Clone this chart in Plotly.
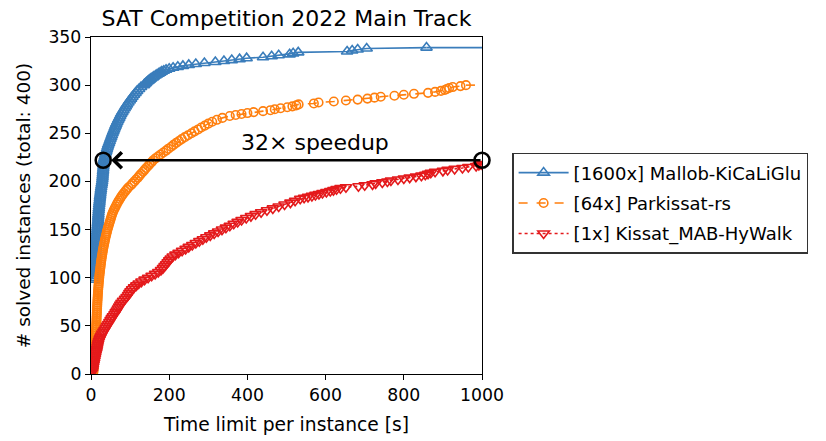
import plotly.graph_objects as go

TIME_LIMIT = 1000

# Mallob-KiCaLiGlu (1600x): time [s] at which the n-th instance is solved
mallob_t = [9, 9.2, 9.4, 9.6, 9.8, 10, 10.2, 10.4, 10.6, 10.8, 11, 11.2, 11.4, 11.6, 11.8,
            12, 12.2, 12.4, 12.8, 13.2, 13.6, 14, 14.4, 14.8, 15.2, 15.6, 16, 16.4, 16.8,
            17.2, 17.6, 18, 18.3, 18.6, 18.9, 19.2, 19.6, 20, 20.5, 21, 21.5, 22, 22.5, 23,
            23.6, 24.2, 24.8, 25.4, 26, 26.8, 27.6, 28.4, 29, 29.4, 29.8, 30.2, 30.6, 31,
            31.4, 31.8, 32.2, 32.6, 33, 34.2, 35.4, 36.6, 38, 39.5, 41, 42.5, 44, 46, 47.8,
            49.6, 51.4, 53.2, 55, 57, 59, 61, 63, 65, 67.4, 69.8, 72.2, 74.6, 77, 80, 83, 86,
            89, 92, 95.5, 99, 102.5, 106, 110, 114, 118, 123, 128,
            135, 137, 140, 142, 145, 148, 151, 154, 158, 161,
            165, 169, 173, 177, 181, 186, 192, 200, 210, 222,
            235, 250, 268, 290, 318, 340, 360, 380, 398, 440,
            462, 480, 508, 517, 530, 655, 668, 682, 705, 858]
mallob_n = [98, 100, 102, 104, 106, 108, 110, 112, 114, 116, 118, 120, 122, 124, 126,
            128, 130, 132, 134, 136, 138, 140, 142, 144, 146, 148, 150, 152, 154,
            156, 158, 160, 162, 164, 166, 168, 170, 172, 174, 176, 178, 180, 182, 184,
            186, 188, 190, 192, 194, 196, 198, 200, 202, 204, 206, 208, 210, 212,
            214, 216, 218, 220, 222, 224, 226, 228, 230, 232, 234, 236, 238, 240, 242,
            244, 246, 248, 250, 252, 254, 256, 258, 260, 262, 264, 266, 268, 270, 272, 274, 276,
            278, 280, 282, 284, 286, 288, 290, 292, 294, 296, 298,
            300, 301, 302, 303, 304, 305, 306, 307, 308, 309,
            310, 311, 312, 313, 314, 315, 316, 317, 318, 319,
            320, 321, 322, 323, 324, 325, 326, 327, 328, 329,
            330, 331, 332, 333, 334, 335, 336, 337, 338, 339]

# Parkissat-rs (64x)
park_t = [6, 6.5, 7, 7.3, 7.6, 8, 8.3, 8.6, 9, 9.3, 9.6, 9.9, 10.2, 10.5, 10.8, 11.1, 11.4,
          11.7, 12, 12.3, 12.5, 12.7, 13, 13.2, 13.4, 13.6, 13.9, 14.1, 14.3, 14.5, 14.8, 15,
          15.2, 15.5, 15.7, 16, 16.2, 16.5, 16.8, 17.1, 17.4, 17.7, 18, 18.4, 18.8, 19.2,
          19.6, 20, 20.5, 21, 21.5, 22, 22.6, 23.2, 23.8, 24.4, 25, 25.6, 26.3, 27, 27.8,
          28.6, 29.4, 30.2, 31, 32, 33, 34, 35, 36, 37.2, 38.4, 39.6, 40.8, 42, 43.5, 45,
          46.5, 48, 49.5, 51, 52.5, 54, 56,
          58, 60.5, 63, 65.5, 68, 71, 74, 77, 80.5, 84,
          88, 92, 96, 102, 106, 111, 115, 120, 124, 128,
          133, 137, 141, 146, 150, 155, 159, 165, 172, 178,
          185, 192, 198, 205, 211, 218, 225, 232, 240, 248,
          257, 265, 274, 282, 291, 300, 310, 322, 336,
          355, 370, 385, 400, 416, 440, 459, 470, 485, 502, 515, 525, 531, 570, 582, 621,
          652, 682, 707, 725, 741, 776, 800, 826, 862, 880, 895, 905, 910, 916, 925, 945, 959]
park_n = [2, 4, 6, 8, 10, 12, 14, 16, 18, 20, 22, 24, 26, 28, 30, 32, 34,
          36, 38, 40, 42, 44, 46, 48, 50, 52, 54, 56, 58, 60, 62, 64,
          66, 68, 70, 72, 74, 76, 78, 80, 82, 84, 86, 88, 90, 92,
          94, 96, 98, 100, 102, 104, 106, 108, 110, 112, 114, 116, 118, 120, 122,
          124, 126, 128, 130, 132, 134, 136, 138, 140, 142, 144, 146, 148, 150, 152, 154,
          156, 158, 160, 162, 164, 166, 168,
          170, 172, 174, 176, 178, 180, 182, 184, 186, 188,
          190, 192, 194, 196, 198, 200, 202, 204, 206, 208,
          210, 212, 214, 216, 218, 220, 222, 224, 226, 228,
          230, 232, 234, 236, 238, 240, 242, 244, 246, 248,
          250, 252, 254, 256, 258, 260, 262, 264, 266,
          268, 269, 270, 271, 272, 273, 274, 275, 276, 277, 278, 279, 280, 281, 282, 283,
          284, 285, 286, 287, 288, 289, 290, 291, 292, 293, 294, 295, 296, 297, 298, 299, 300]

# Kissat_MAB-HyWalk (1x)
kissat_t = [3, 4, 5, 6, 7, 8, 9, 10, 11, 12, 13.5, 14.5, 15.5, 16.5, 17.5, 18.5, 20, 22, 24,
            26.5, 29, 32, 35, 38, 41, 44, 47, 50, 53, 56, 60, 63, 66, 69, 72, 75, 78, 82, 87,
            91, 95, 98, 101, 105, 110, 116, 122, 129, 137, 146, 155, 164, 172, 179, 184, 188,
            192, 196, 200, 204, 209, 216, 224, 233, 242, 250, 259, 268, 277, 286, 295, 305,
            315, 325, 335, 345, 355, 365, 375, 385, 397, 409, 421, 435, 450, 465, 480, 495,
            510, 522, 535,
            545, 555, 565, 574, 583, 592, 602, 612, 620, 628, 638, 652, 684, 700, 720, 728,
            745, 758, 767, 785, 800, 815, 831, 845, 855, 862, 869, 880, 900, 912, 930, 950,
            965, 985, 992, 998]
kissat_n = [2, 4, 6, 8, 10, 12, 14, 16, 18, 20, 22, 24, 26, 28, 30, 32, 34, 36, 38,
            40, 42, 44, 46, 48, 50, 52, 54, 56, 58, 60, 62, 64, 66, 68, 70, 72, 74, 76, 78,
            80, 82, 84, 86, 88, 90, 92, 94, 96, 98, 100, 102, 104, 106, 108, 110, 112,
            114, 116, 118, 120, 122, 124, 126, 128, 130, 132, 134, 136, 138, 140, 142, 144,
            146, 148, 150, 152, 154, 156, 158, 160, 162, 164, 166, 168, 170, 172, 174, 176,
            178, 180, 182,
            183, 184, 185, 186, 187, 188, 189, 190, 191, 192, 193, 194, 195, 196, 197, 198,
            199, 200, 201, 202, 203, 204, 205, 206, 207, 208, 209, 210, 211, 212, 213, 214,
            215, 216, 217, 218]

# annotation: speedup
speedup = 32
level = 222

series = [
    ("[1600x] Mallob-KiCaLiGlu", mallob_t, mallob_n, "#3a7dbb", "solid", "triangle-up-open", 10),
    ("[64x] Parkissat-rs", park_t, park_n, "#ff7f0e", "dash", "circle-open", 8.5),
    ("[1x] Kissat_MAB-HyWalk", kissat_t, kissat_n, "#e41a1c", "dot", "triangle-down-open", 10),
]

fig = go.Figure()
for i, (name, t, n, col, dash, sym, sz) in enumerate(series):
    fig.add_trace(go.Scatter(
        x=t, y=n, mode="lines+markers", name=name, legendgroup=f"g{i}",
        line=dict(color=col, width=1.6, dash=dash),
        marker=dict(symbol=sym, size=sz, color=col, line=dict(width=1.6, color=col)),
    ))
    if t[-1] < TIME_LIMIT:
        fig.add_trace(go.Scatter(
            x=[t[-1], TIME_LIMIT], y=[n[-1], n[-1]], mode="lines", showlegend=False,
            line=dict(color=col, width=1.6, dash=dash), hoverinfo="skip",
        ))

fig.add_trace(go.Scatter(
    x=[TIME_LIMIT / speedup, TIME_LIMIT], y=[level, level], mode="markers",
    showlegend=False, cliponaxis=False,
    marker=dict(symbol="circle-open", size=15, color="black", line=dict(width=2.6, color="black")),
))

fig.add_annotation(
    x=TIME_LIMIT / speedup, y=level, ax=TIME_LIMIT, ay=level, axref="x", ayref="y",
    xref="x", yref="y", showarrow=True, arrowhead=4, arrowsize=1.3, arrowwidth=2.4,
    arrowcolor="black", standoff=8, text="",
)
fig.add_annotation(
    x=573, y=240, xref="x", yref="y", showarrow=False,
    text=f"{speedup}× speedup", font=dict(size=22, color="black"),
)

# the page body has an 8px margin, so the figure is 8px smaller and shifted accordingly
FONT = "DejaVu Sans, sans-serif"
fig.update_layout(
    width=818, height=433,
    margin=dict(l=83, r=344, t=29, b=67, autoexpand=False),
    paper_bgcolor="white", plot_bgcolor="white",
    font=dict(family=FONT, size=17, color="black"),
    title=dict(text="SAT Competition 2022 Main Track", x=0.5, xref="paper", xanchor="center",
               y=1 - 10 / 433, yref="container", yanchor="middle", font=dict(size=22),
               automargin=False),
    showlegend=True,
    legend=dict(x=1.077, y=0.656, xanchor="left", yanchor="top", bordercolor="#333",
                borderwidth=1.5, bgcolor="white", font=dict(size=18), itemwidth=50,
                tracegroupgap=4, traceorder="grouped"),
    xaxis=dict(range=[0, TIME_LIMIT], tickvals=[0, 200, 400, 600, 800, 1000], automargin=False,
               showgrid=False, zeroline=False, showline=True, linecolor="black", linewidth=1.3,
               mirror=True, ticks="outside", ticklen=5, tickwidth=1.3, tickcolor="black",
               title=dict(text="Time limit per instance [s]", standoff=13, font=dict(size=18.7)),
               tickfont=dict(size=17.3)),
    yaxis=dict(range=[0, 350], tickvals=[0, 50, 100, 150, 200, 250, 300, 350], automargin=False,
               showgrid=False, zeroline=False, showline=True, linecolor="black", linewidth=1.3,
               mirror=True, ticks="outside", ticklen=5, tickwidth=1.3, tickcolor="black",
               title=dict(text="# solved instances (total: 400)", standoff=12, font=dict(size=18.5)),
               tickfont=dict(size=17.3)),
)

fig.write_html("out.html")
